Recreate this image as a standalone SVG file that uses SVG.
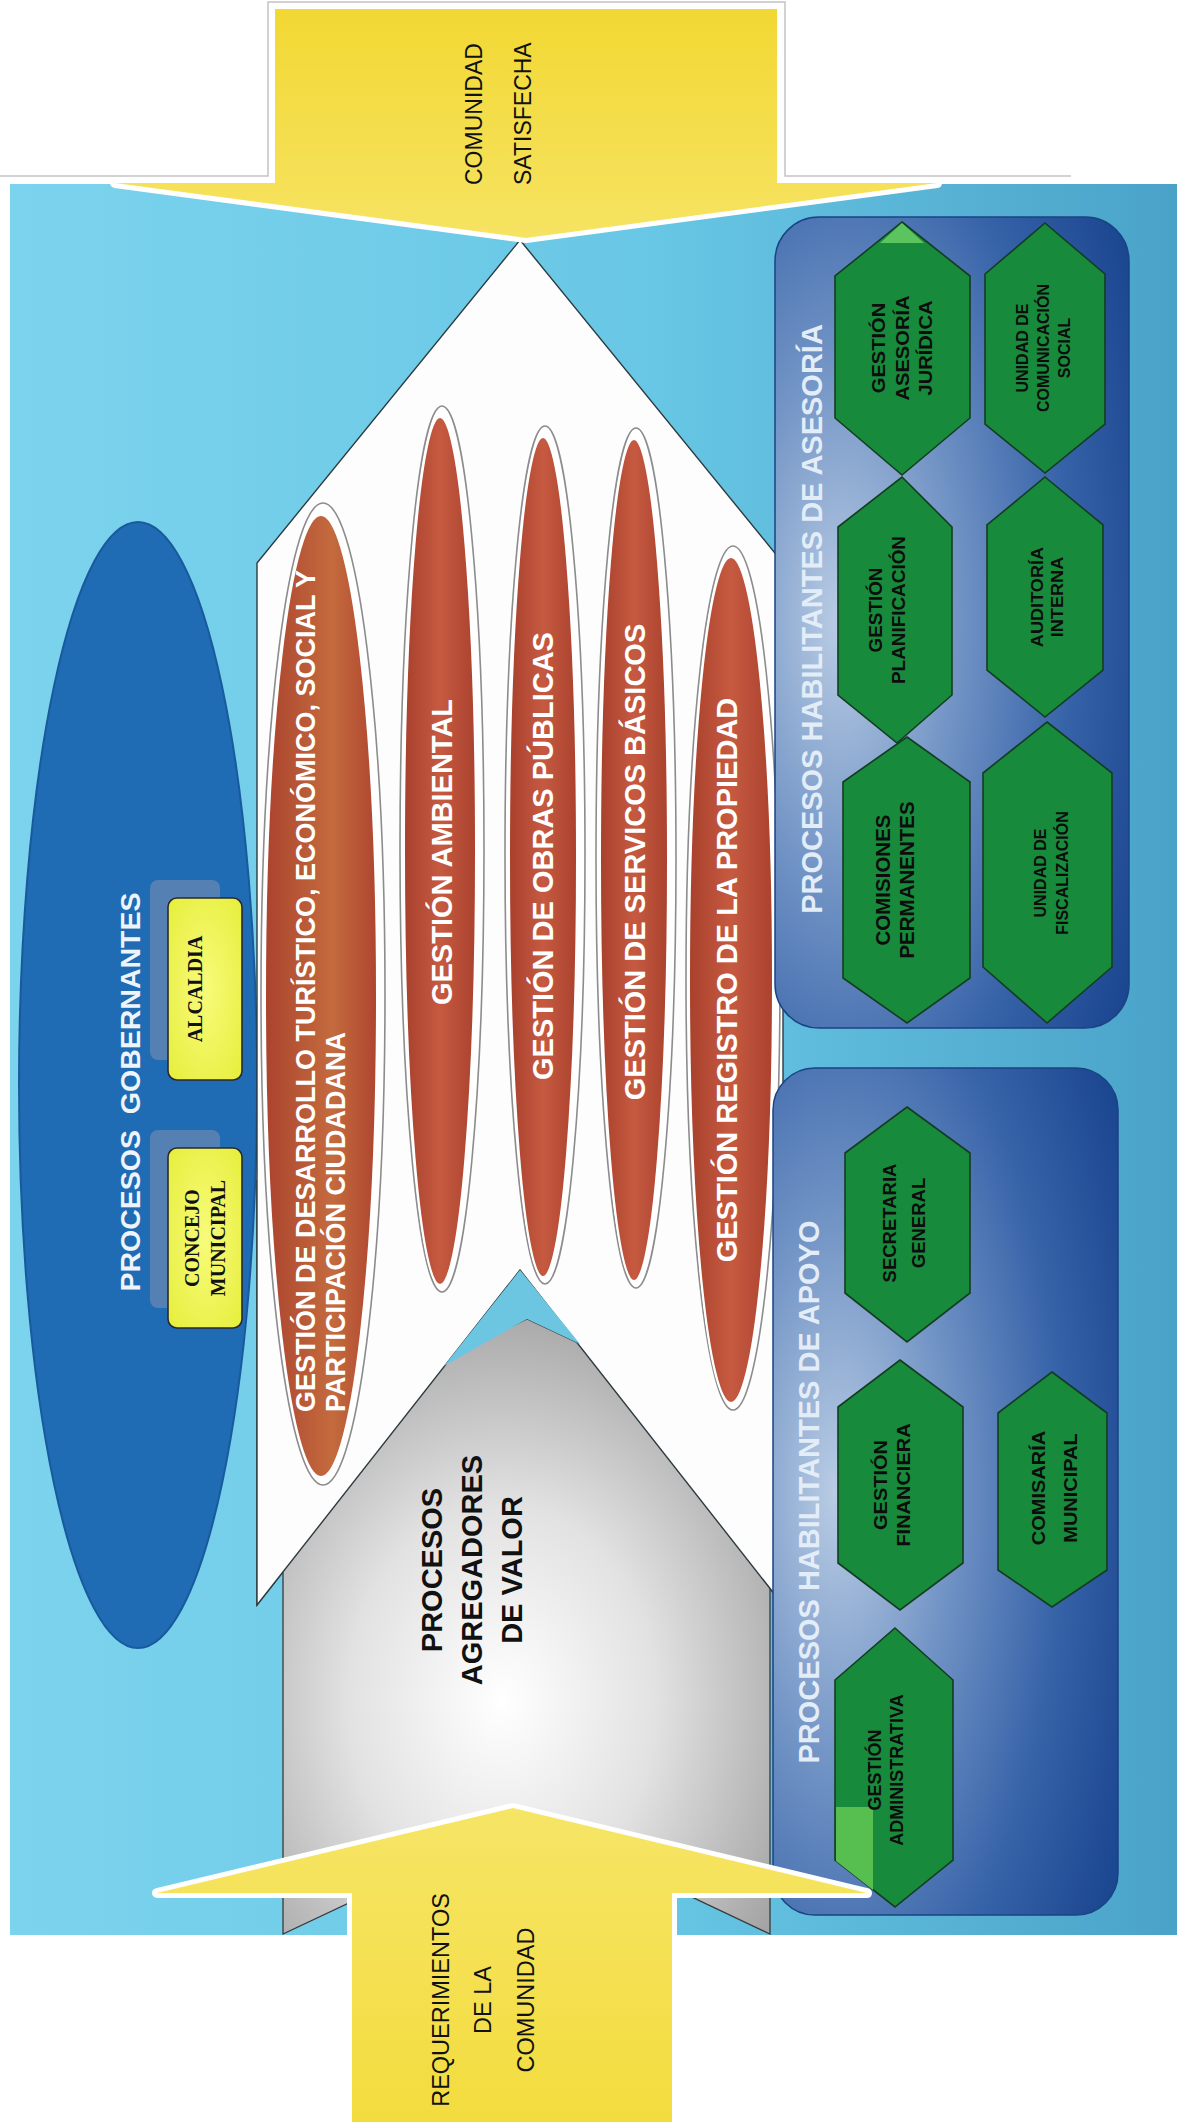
<svg xmlns="http://www.w3.org/2000/svg" width="1183" height="2122" viewBox="0 0 1183 2122">
<defs>
<style>
.sans{font-family:"Liberation Sans",Arial,sans-serif}
.serif{font-family:"Liberation Serif","Times New Roman",serif;font-weight:bold;fill:#111}
.red-t{font-family:"Liberation Sans",Arial,sans-serif;font-weight:bold;fill:#fff;font-size:29px}
.hex-t{font-family:"Liberation Sans",Arial,sans-serif;font-weight:bold;fill:#0d0d0d;text-anchor:middle}
.title-t{font-family:"Liberation Sans",Arial,sans-serif;font-weight:bold;fill:#e3edf8;font-size:29px;text-anchor:middle}
.arrow-t{font-family:"Liberation Sans",Arial,sans-serif;fill:#111;font-size:23px}
.hex{fill:#178a3b;stroke:#143c22;stroke-width:1.6}
.glow{fill:#fff;stroke:#8c8c8c;stroke-width:1.6}
.ybox{fill:url(#ybox);stroke:#2a2a2a;stroke-width:1.6}
.yshadow{fill:#8a93b2;opacity:0.5}
</style>
<linearGradient id="bg" x1="0" y1="0" x2="1" y2="0">
<stop offset="0" stop-color="#7cd3ed"/><stop offset="0.55" stop-color="#68c7e5"/><stop offset="1" stop-color="#4aa2c8"/>
</linearGradient>
<linearGradient id="red" x1="0" y1="0" x2="1" y2="0">
<stop offset="0" stop-color="#a8402c"/><stop offset="0.5" stop-color="#c65a41"/><stop offset="1" stop-color="#aa422e"/>
</linearGradient>
<linearGradient id="red1" x1="0" y1="0" x2="1" y2="0">
<stop offset="0" stop-color="#ab432e"/><stop offset="0.6" stop-color="#c46b3e"/><stop offset="1" stop-color="#ae4530"/>
</linearGradient>
<radialGradient id="gray" cx="0.45" cy="0.62" r="0.7">
<stop offset="0" stop-color="#ffffff"/><stop offset="0.45" stop-color="#e2e2e2"/><stop offset="1" stop-color="#9c9c9c"/>
</radialGradient>
<radialGradient id="box" cx="0.22" cy="0.5" r="0.9" fx="0.18" fy="0.5">
<stop offset="0" stop-color="#b9cce4"/><stop offset="0.35" stop-color="#7395c6"/><stop offset="0.7" stop-color="#3662a8"/><stop offset="1" stop-color="#1b4690"/>
</radialGradient>
<linearGradient id="ytop" x1="0" y1="0" x2="0" y2="1">
<stop offset="0" stop-color="#f2d833"/><stop offset="1" stop-color="#f6e362"/>
</linearGradient>
<linearGradient id="ybot" x1="0" y1="0" x2="0" y2="1">
<stop offset="0" stop-color="#f6e566"/><stop offset="1" stop-color="#f3dc3e"/>
</linearGradient>
<radialGradient id="ybox" cx="0.5" cy="0.5" r="0.7">
<stop offset="0" stop-color="#f8fb7a"/><stop offset="1" stop-color="#e6ee3c"/>
</radialGradient>
</defs>

<!-- page frame artifacts -->
<path d="M0,176 H268 V2 H785 V176 H1071" fill="none" stroke="#c4c4c4" stroke-width="1.5"/>
<line x1="676" y1="1936" x2="676" y2="2122" stroke="#d0d0d0" stroke-width="1.5"/>

<g id="background">
<rect x="10" y="184" width="1167" height="1751" fill="url(#bg)"/>
</g>

<g id="procesos-gobernantes">
<ellipse cx="138" cy="1085" rx="119" ry="563" fill="#1f6cb4" stroke="#185a9c" stroke-width="2"/>
<text class="sans" transform="translate(130,1092) rotate(-90)" text-anchor="middle" font-size="28.5" font-weight="bold" fill="#eef4fb" xml:space="preserve"><tspan x="0" y="10.2">PROCESOS  GOBERNANTES</tspan></text>
</g>

<g id="alcaldia">
<rect class="yshadow" x="150" y="880" width="70" height="180" rx="8"/>
<rect class="ybox" x="168" y="898" width="74" height="182" rx="9"/>
<text class="serif" transform="translate(195,989) rotate(-90)" text-anchor="middle" font-size="20"><tspan x="0" y="6.6">ALCALDIA</tspan></text>
</g>

<g id="concejo-municipal">
<rect class="yshadow" x="150" y="1130" width="70" height="178" rx="8"/>
<rect class="ybox" x="168" y="1148" width="74" height="180" rx="9"/>
<text class="serif" transform="translate(192,1238) rotate(-90)" text-anchor="middle" font-size="20"><tspan x="0" y="6.6">CONCEJO</tspan><tspan x="0" y="32.6">MUNICIPAL</tspan></text>
</g>

<g id="chevron-procesos-clave">
<polygon points="520,240 783,563 783,1605 520,1270 257,1605 257,563" fill="#fdfdfd" stroke="#2d3b40" stroke-width="1.4"/>
</g>

<g id="procesos-agregadores">
<polygon points="283,1934 283,1437 527,1319 770,1433 770,1934 527,1819" fill="url(#gray)" stroke="#3a3a3a" stroke-width="1.3"/>
<text class="sans" transform="translate(432,1570) rotate(-90)" text-anchor="middle" font-size="29" font-weight="bold" fill="#111"><tspan x="0" y="10.4">PROCESOS</tspan><tspan x="0" y="50.4">AGREGADORES</tspan><tspan x="0" y="90.4">DE VALOR</tspan></text>
</g>
<g id="chevron-notch">
<polygon points="257,1605 257,1180 520,1180 783,1180 783,1605 520,1270" fill="#fdfdfd" stroke="none"/>
<polyline points="257,1180 257,1605 520,1270 783,1605 783,1180" fill="none" stroke="#2d3b40" stroke-width="1.4"/>
<polygon points="520,1270 444,1366 527,1319 580,1344" fill="#6cc6e2"/>
</g>

<g id="gestion-desarrollo">
<ellipse class="glow" cx="323" cy="994" rx="62" ry="491"/>
<ellipse cx="321" cy="996" rx="56" ry="481" fill="url(#red1)" stroke="#fff" stroke-width="2"/>
<text class="red-t" transform="translate(305,1412) rotate(-90)" style="font-size:27px"><tspan x="0" y="9.7">GESTIÓN DE DESARROLLO TURÍSTICO, ECONÓMICO, SOCIAL Y</tspan><tspan x="0" y="39.7">PARTICIPACIÓN CIUDADANA</tspan></text>
</g>
<g id="gestion-ambiental">
<ellipse class="glow" cx="442" cy="849" rx="42" ry="443"/>
<ellipse cx="440" cy="851" rx="36" ry="434" fill="url(#red)" stroke="#fff" stroke-width="2"/>
<text class="red-t" transform="translate(442,852) rotate(-90)" text-anchor="middle"><tspan x="0" y="10.4">GESTIÓN AMBIENTAL</tspan></text>
</g>
<g id="gestion-obras">
<ellipse class="glow" cx="545" cy="855" rx="40" ry="429"/>
<ellipse cx="543" cy="857" rx="34" ry="420" fill="url(#red)" stroke="#fff" stroke-width="2"/>
<text class="red-t" transform="translate(543,856) rotate(-90)" text-anchor="middle"><tspan x="0" y="10.4">GESTIÓN DE OBRAS PÚBLICAS</tspan></text>
</g>
<g id="gestion-servicios">
<ellipse class="glow" cx="636" cy="858" rx="40" ry="430"/>
<ellipse cx="634" cy="860" rx="34" ry="421" fill="url(#red)" stroke="#fff" stroke-width="2"/>
<text class="red-t" transform="translate(635,862) rotate(-90)" text-anchor="middle"><tspan x="0" y="10.4">GESTIÓN DE SERVICOS BÁSICOS</tspan></text>
</g>
<g id="gestion-registro">
<ellipse class="glow" cx="733" cy="978" rx="47" ry="432"/>
<ellipse cx="731" cy="980" rx="42" ry="423" fill="url(#red)" stroke="#fff" stroke-width="2"/>
<text class="red-t" transform="translate(727,980) rotate(-90)" text-anchor="middle"><tspan x="0" y="10.4">GESTIÓN REGISTRO DE LA PROPIEDAD</tspan></text>
</g>

<g id="procesos-asesoria">
<rect x="775" y="217" width="354" height="811" rx="44" fill="url(#box)" stroke="#1a4384" stroke-width="1.5"/>
<text class="title-t" transform="translate(812,619) rotate(-90)"><tspan x="0" y="10.4">PROCESOS HABILITANTES DE ASESORÍA</tspan></text>
</g>
<g id="gestion-asesoria-juridica">
<polygon class="hex" points="902,222 970,276 970,418 902,475 835,418 835,276"/>
<polygon points="902,223 880,243 924,243" fill="#5cc45e"/>
<text class="hex-t" transform="translate(879,348) rotate(-90) scale(1.15,1)" font-size="17.5"><tspan x="0" y="6.3">GESTIÓN</tspan><tspan x="0" y="29.8">ASESORÍA</tspan><tspan x="0" y="53.3">JURÍDICA</tspan></text>
</g>
<g id="unidad-comunicacion-social">
<polygon class="hex" points="1045,223 1105,274 1105,424 1045,473 985,424 985,274"/>
<text class="hex-t" transform="translate(1022,348) rotate(-90)" font-size="16"><tspan x="0" y="5.7">UNIDAD DE</tspan><tspan x="0" y="26.7">COMUNICACIÓN</tspan><tspan x="0" y="47.7">SOCIAL</tspan></text>
</g>
<g id="gestion-planificacion">
<polygon class="hex" points="902,477 952,527 952,695 897,743 838,695 838,527"/>
<text class="hex-t" transform="translate(876,610) rotate(-90) scale(1.08,1)" font-size="17.5"><tspan x="0" y="6.3">GESTIÓN</tspan><tspan x="0" y="29.3">PLANIFICACIÓN</tspan></text>
</g>
<g id="auditoria-interna">
<polygon class="hex" points="1045,477 1103,525 1103,670 1045,717 987,670 987,525"/>
<text class="hex-t" transform="translate(1037,597) rotate(-90) scale(1.1,1)" font-size="16.5"><tspan x="0" y="5.9">AUDITORÍA</tspan><tspan x="0" y="25.9">INTERNA</tspan></text>
</g>
<g id="comisiones-permanentes">
<polygon class="hex" points="907,737 970,782 970,978 907,1023 843,978 843,782"/>
<text class="hex-t" transform="translate(883,880) rotate(-90)" font-size="20.5"><tspan x="0" y="7.3">COMISIONES</tspan><tspan x="0" y="31.3">PERMANENTES</tspan></text>
</g>
<g id="unidad-fiscalizacion">
<polygon class="hex" points="1047,722 1112,773 1112,967 1047,1023 983,967 983,773"/>
<text class="hex-t" transform="translate(1040,873) rotate(-90)" font-size="16"><tspan x="0" y="5.7">UNIDAD DE</tspan><tspan x="0" y="27.7">FISCALIZACIÓN</tspan></text>
</g>

<g id="procesos-apoyo">
<rect x="773" y="1068" width="345" height="847" rx="42" fill="url(#box)" stroke="#1a4384" stroke-width="1.5"/>
<text class="title-t" transform="translate(809,1492) rotate(-90)"><tspan x="0" y="10.4">PROCESOS HABILITANTES DE APOYO</tspan></text>
</g>
<g id="secretaria-general">
<polygon class="hex" points="907,1107 970,1153 970,1293 907,1342 845,1293 845,1153"/>
<text class="hex-t" transform="translate(889,1223) rotate(-90)" font-size="18.5"><tspan x="0" y="6.6">SECRETARIA</tspan><tspan x="0" y="35.6">GENERAL</tspan></text>
</g>
<g id="gestion-financiera">
<polygon class="hex" points="900,1360 963,1407 963,1563 900,1610 838,1563 838,1407"/>
<text class="hex-t" transform="translate(880,1485) rotate(-90) scale(1.08,1)" font-size="18.5"><tspan x="0" y="6.6">GESTIÓN</tspan><tspan x="0" y="29.6">FINANCIERA</tspan></text>
</g>
<g id="comisaria-municipal">
<polygon class="hex" points="1052,1372 1107,1413 1107,1570 1052,1607 998,1570 998,1413"/>
<text class="hex-t" transform="translate(1038,1488) rotate(-90) scale(1.08,1)" font-size="18.5"><tspan x="0" y="6.6">COMISARÍA</tspan><tspan x="0" y="38.6">MUNICIPAL</tspan></text>
</g>
<g id="gestion-administrativa">
<polygon class="hex" points="895,1628 953,1680 953,1860 895,1907 835,1860 835,1680"/>
<polygon points="836,1807 873,1807 873,1890 836,1861" fill="#56bf50"/>
<text class="hex-t" transform="translate(875,1770) rotate(-90)" font-size="18"><tspan x="0" y="6.4">GESTIÓN</tspan><tspan x="0" y="28.4">ADMINISTRATIVA</tspan></text>
</g>

<g id="comunidad-satisfecha">
<polygon points="275,9 777,9 777,183 937,183 526,238 115,183 275,183" fill="#ffffff" stroke="#ffffff" stroke-width="10" stroke-linejoin="round"/>
<polygon points="275,9 777,9 777,183 937,183 526,238 115,183 275,183" fill="url(#ytop)"/>
<text class="arrow-t" transform="translate(474,185) rotate(-90)" text-anchor="start"><tspan x="0" y="8.2">COMUNIDAD</tspan><tspan x="0" y="57.2">SATISFECHA</tspan></text>
</g>

<g id="requerimientos-comunidad">
<polygon points="352,2122 352,1893 157,1893 513,1808 867,1893 672,1893 672,2122" fill="#ffffff" stroke="#ffffff" stroke-width="10" stroke-linejoin="round"/>
<polygon points="352,2122 352,1893 157,1893 513,1808 867,1893 672,1893 672,2122" fill="url(#ybot)"/>
<text class="arrow-t" transform="translate(441,2000) rotate(-90)" text-anchor="middle" style="font-size:23.5px"><tspan x="0" y="8.4">REQUERIMIENTOS</tspan><tspan x="0" y="50.4">DE LA</tspan><tspan x="0" y="93.4">COMUNIDAD</tspan></text>
</g>
</svg>
